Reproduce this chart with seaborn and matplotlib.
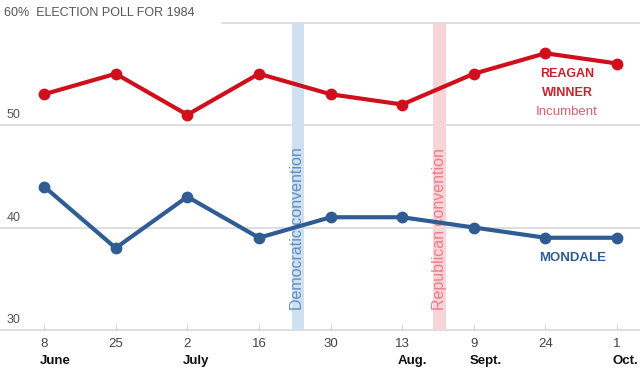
import numpy as np
import pandas as pd
import matplotlib
matplotlib.use("Agg")
import matplotlib.pyplot as plt
import matplotlib.transforms as mtransforms
import seaborn as sns

#%% data
days = ["8", "25", "2", "16", "30", "13", "9", "24", "1"]
months = ["June", "", "July", "", "", "Aug.", "Sept.", "", "Oct."]
reagan = [53, 55, 51, 55, 53, 52, 55, 57, 56]
mondale = [44, 38, 43, 39, 41, 41, 40, 39, 39]
conventions = ["Democratic convention", "Republican convention"]
convention_pos = [3.54, 5.52]   # between poll dates
y_ticks = [30, 40, 50, 60]

#%%
sns.set_style("white")
plt.rcParams["font.family"] = ["Liberation Sans", "DejaVu Sans"]

red = "#cf101c"
blue = "#2f5d93"

polls = pd.DataFrame({
    "poll": list(range(len(days))) * 2,
    "pct": reagan + mondale,
    "candidate": ["Reagan"] * len(days) + ["Mondale"] * len(days),
})

fig = plt.figure(figsize=(6.4, 3.72), dpi=100)
ax = fig.add_axes([0, 42 / 372, 1, 330 / 372])
ax.set_xlim(-0.615, 8.32)
ax.set_ylim(30, 30 + 330 / 10.25)

# gridlines
for v in y_ticks:
    start = 222 / 640 if v == 60 else 0
    ax.axhline(v, xmin=start, color="#d8d8d8", lw=1.2, zorder=0, clip_on=False)

# convention bands
band_colors = ["#cfe0f0", "#f8d3d7"]
text_colors = ["#5f8fc2", "#ef7d88"]
for name, xp, bc, tc in zip(conventions, convention_pos, band_colors, text_colors):
    ax.fill_between([xp - 0.085, xp + 0.085], 30, 60, color=bc, lw=0, zorder=1)
    ax.text(xp, 30 + (330 - 229) / 10.25, name, rotation=90, ha="center",
            va="center", color=tc, fontsize=11.5, zorder=2)

sns.lineplot(data=polls, x="poll", y="pct", hue="candidate",
             palette={"Reagan": red, "Mondale": blue}, marker="o",
             markersize=8.5, markeredgewidth=0, linewidth=3, legend=False,
             ax=ax, zorder=3)

# axis cosmetics
for s in ax.spines.values():
    s.set_visible(False)
ax.set_xlabel("")
ax.set_ylabel("")
ax.set_yticks([])
ax.set_xticks(range(len(days)))
ax.set_xticklabels(days, fontsize=9.5, color="#444444")
ax.tick_params(axis="x", direction="in", length=4, width=0.8,
               color="#d8d8d8", pad=6, bottom=True)

trans = mtransforms.blended_transform_factory(ax.transData, fig.transFigure)
for i, m in enumerate(months):
    if m:
        ax.text(i - 0.06, 1 - 361 / 372, m, transform=trans, ha="left",
                va="center", fontsize=9.5, fontweight="bold", color="#111111")

# y labels sitting on the gridlines
ytrans = mtransforms.blended_transform_factory(fig.transFigure, ax.transData)
for v in y_ticks[:-1]:
    ax.text(7 / 640, v + 0.35, str(v), transform=ytrans, ha="left",
            va="bottom", fontsize=9, color="#555555")
ax.text(4 / 640, 60.35, "60%  ELECTION POLL FOR 1984", transform=ytrans,
        ha="left", va="bottom", fontsize=9, color="#555555")

# candidate labels
ax.text(7.3, 55.0, "REAGAN", ha="center", va="center", fontsize=9,
        fontweight="bold", color="#c8202e")
ax.text(7.3, 53.15, "WINNER", ha="center", va="center", fontsize=9,
        fontweight="bold", color="#c8202e")
ax.text(7.3, 51.3, "Incumbent", ha="center", va="center", fontsize=9.5,
        color="#d9606c")
ax.text(7.38, 37.0, "MONDALE", ha="center", va="center", fontsize=9.5,
        fontweight="bold", color="#2f5d93")

plt.savefig("out.png", format="png", dpi=100)
